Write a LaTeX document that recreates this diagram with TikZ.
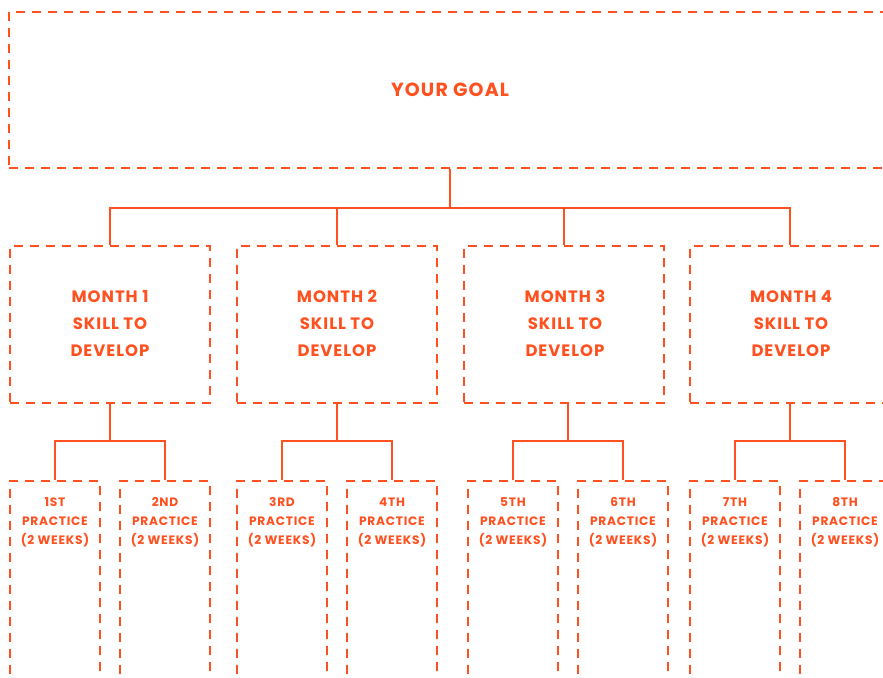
\documentclass[tikz,border=0pt]{standalone}
\usepackage{fontspec}
\setmainfont{Poppins}[LetterSpace=6]
\usetikzlibrary{calc}
\definecolor{org}{HTML}{FF5020}
\tikzset{
  box/.style={draw=org, line width=2pt, dash pattern=on 9pt off 7pt, rectangle, inner sep=0pt},
  goalbox/.style={box, minimum width=882pt, minimum height=156pt},
  monthbox/.style={box, minimum width=200pt, minimum height=157pt},
  pracbox/.style={box, minimum width=90pt, minimum height=260pt, anchor=north},
  conn/.style={draw=org, line width=1.5pt},
  goaltxt/.style={text=org, font=\fontsize{19}{22}\selectfont\bfseries},
  monthtxt/.style={text=org, align=center, font=\fontsize{16.5}{27}\selectfont\bfseries},
  practxt/.style={text=org, align=center, font=\fontsize{12.2}{19}\selectfont\bfseries},
}
\begin{document}
\begin{tikzpicture}[x=1pt,y=-1pt]
\useasboundingbox (0,0) rectangle (883,677);
% goal
\node[goalbox] (goal) at (450,90) {};
\node[goaltxt] (goaltext) at (450,89.5) {YOUR GOAL};
% months
\node[monthbox] (m1) at (110,324.5) {};
\node[monthbox] (m2) at (337,324.5) {};
\node[monthbox] (m3) at (564,324.5) {};
\node[monthbox] (m4) at (790,324.5) {};
\node[monthtxt] (mt1) at (110,323.5) {MONTH 1\\SKILL TO\\DEVELOP};
\node[monthtxt] (mt2) at (337,323.5) {MONTH 2\\SKILL TO\\DEVELOP};
\node[monthtxt] (mt3) at (565,323.5) {MONTH 3\\SKILL TO\\DEVELOP};
\node[monthtxt] (mt4) at (791,323.5) {MONTH 4\\SKILL TO\\DEVELOP};
% practices
\node[pracbox] (p1) at (55,480) {};
\node[pracbox] (p2) at (165,480) {};
\node[pracbox] (p3) at (282,480) {};
\node[pracbox] (p4) at (392,480) {};
\node[pracbox] (p5) at (513,480) {};
\node[pracbox] (p6) at (623,480) {};
\node[pracbox] (p7) at (735,480) {};
\node[pracbox] (p8) at (845,480) {};
\node[practxt] (pt1) at (55,522) {1ST\\PRACTICE\\(2 WEEKS)};
\node[practxt] (pt2) at (165,522) {2ND\\PRACTICE\\(2 WEEKS)};
\node[practxt] (pt3) at (282,522) {3RD\\PRACTICE\\(2 WEEKS)};
\node[practxt] (pt4) at (392,522) {4TH\\PRACTICE\\(2 WEEKS)};
\node[practxt] (pt5) at (513,522) {5TH\\PRACTICE\\(2 WEEKS)};
\node[practxt] (pt6) at (623,522) {6TH\\PRACTICE\\(2 WEEKS)};
\node[practxt] (pt7) at (735,522) {7TH\\PRACTICE\\(2 WEEKS)};
\node[practxt] (pt8) at (845,522) {8TH\\PRACTICE\\(2 WEEKS)};
% connectors top
\coordinate (bus) at (450,208);
\draw[conn] (goal.south) -- (goal.south |- bus);
\draw[conn] (m1.north) |- (bus) -| (m4.north);
\draw[conn] (m2.north) -- (m2.north |- bus);
\draw[conn] (m3.north) -- (m3.north |- bus);
% connectors bottom
\coordinate (bus2) at (0,441);
\foreach \m/\a/\b in {1/1/2,2/3/4,3/5/6,4/7/8}{
  \coordinate (j\m) at ($(p\a.north)!0.5!(p\b.north)$);
  \draw[conn] (j\m |- m\m.south) -- (j\m |- bus2);
  \draw[conn] (p\a.north) |- (j\m |- bus2) -| (p\b.north);
}
\end{tikzpicture}
\end{document}
